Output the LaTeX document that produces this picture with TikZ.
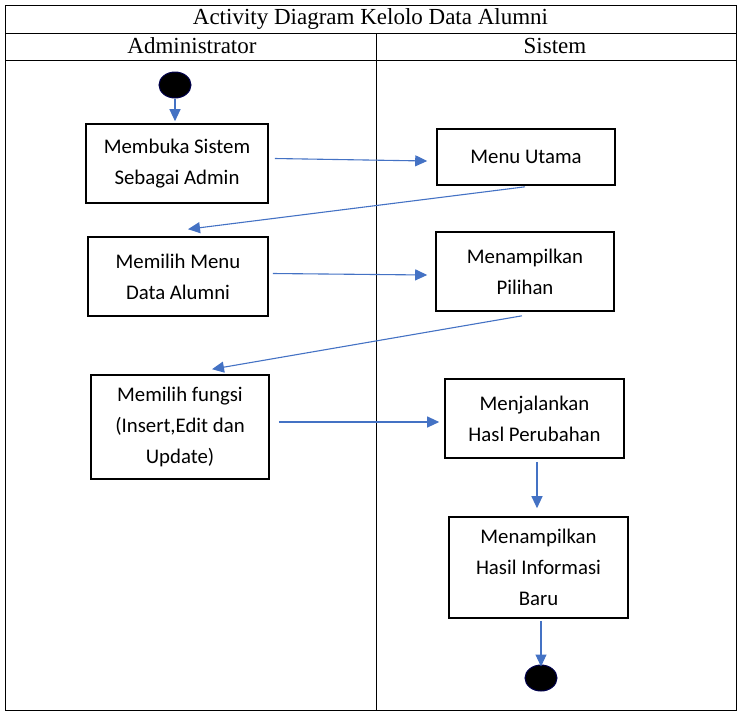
\documentclass[tikz,border=0pt]{standalone}
\usepackage{fontspec}
\setmainfont{Liberation Serif}
\newfontfamily\boxfont{Carlito}
\usetikzlibrary{arrows.meta,shapes.geometric}
\definecolor{arrblue}{HTML}{4472C4}
\tikzset{
  actbox/.style={draw=black, line width=1.6pt, minimum width=#1, align=center, font=\boxfont\fontsize{20.8}{31}\selectfont, inner sep=0pt},
  arr/.style={draw=arrblue, line width=1.1pt, -{Triangle[length=12pt,width=11pt]}},
  dot/.style={ellipse, fill=black, draw=black!70!blue, line width=1pt, minimum width=32pt, minimum height=26pt, inner sep=0pt},
  frame/.style={draw=black, line width=0.8pt},
  hdr/.style={font=\fontsize{23}{26}\selectfont, inner sep=0pt}
}
\begin{document}
\begin{tikzpicture}[x=1pt,y=-1pt]
\useasboundingbox (0,0) rectangle (744,716);
% table frame
\draw[frame] (5,5) rectangle (736,710);
\draw[frame] (5,33) -- (736,33);
\draw[frame] (5,60) -- (736,60);
\draw[frame] (376,33) -- (376,710);
\node[hdr] (title) at (370.5,19) {Activity Diagram Kelolo Data Alumni};
\node[hdr] (adm) at (192,46) {Administrator};
\node[hdr] (sis) at (555,46) {Sistem};
% start / end
\node[dot] (start) at (175,85) {};
\node[dot] (end) at (541,678) {};
% boxes
\node[actbox=182pt, minimum height=79pt] (b1) at (177,163.5) {Membuka Sistem\\Sebagai Admin};
\node[actbox=178pt, minimum height=56pt] (b2) at (526,157) {Menu Utama};
\node[actbox=180pt, minimum height=79pt] (b3) at (178,276.5) {Memilih Menu\\Data Alumni};
\node[actbox=178pt, minimum height=79pt] (b4) at (525,271.5) {Menampilkan\\Pilihan};
\node[actbox=178pt, minimum height=104pt] (b5) at (180,427) {Memilih fungsi\\(Insert,Edit dan\\Update)};
\node[actbox=179pt, minimum height=79pt] (b6) at (534.5,418.5) {Menjalankan\\Hasl Perubahan};
\node[actbox=179pt, minimum height=101pt] (b7) at (538.5,567.5) {Menampilkan\\Hasil Informasi\\Baru};
% arrows
\draw[arr] (start.south) -- ([shift={(-2,-2)}]b1.north);
\draw[arr] ([shift={(6,-5)}]b1.east) -- ([shift={(-9,4)}]b2.west);
\draw[arr] ([shift={(-1,1)}]b2.south) -- ([shift={(10,-7)}]b3.north);
\draw[arr] ([shift={(4,-3)}]b3.east) -- ([shift={(-8,3.5)}]b4.west);
\draw[arr] ([shift={(-3,4)}]b4.south) -- ([shift={(32,-5)}]b5.north);
\draw[arr] ([shift={(9,-5)}]b5.east) -- ([shift={(-5,3.5)}]b6.west);
\draw[arr] ([shift={(2.5,3)}]b6.south) -- ([shift={(-1.5,-8)}]b7.north);
\draw[arr] ([shift={(2.5,2)}]b7.south) -- ([yshift=-2]end.north);
\end{tikzpicture}
\end{document}
